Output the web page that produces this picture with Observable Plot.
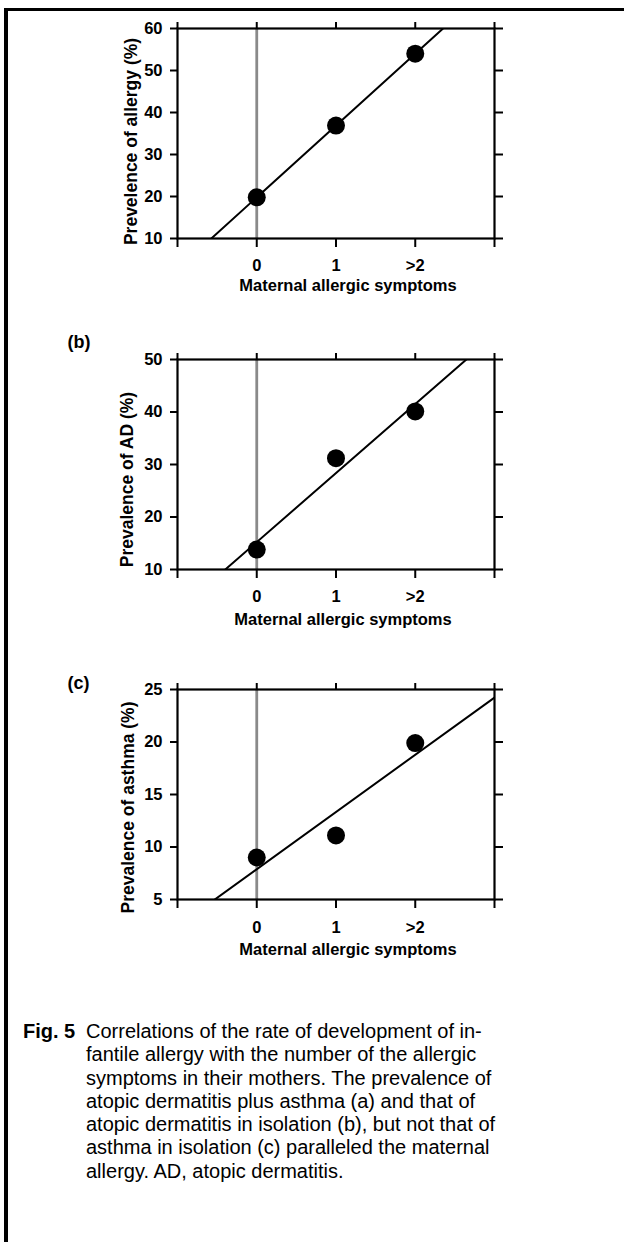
<!DOCTYPE html>
<html>
<head>
<meta charset="utf-8">
<script src="https://cdn.jsdelivr.net/npm/d3@7"></script>
<script src="https://cdn.jsdelivr.net/npm/@observablehq/plot@0.6"></script>
<style>
  html, body { margin: 0; padding: 0; background: #fff; }
  #page { position: relative; width: 624px; height: 1242px; overflow: hidden; font-family: "Liberation Sans", Arial, sans-serif; }
  #border { position: absolute; left: 4px; top: 8px; right: 0; bottom: -10px; border-top: 3px solid #000; border-left: 4px solid #000; }
  .panel { position: absolute; left: 0; }
  .panel svg { background: transparent !important; }
  #caption { position: absolute; left: 0; top: 1020px; width: 624px; font-size: 20px; line-height: 23.3px; color: #000; }
  #caption .fig { position: absolute; left: 23px; top: 0; font-weight: bold; }
  #caption .body { position: absolute; left: 86px; top: 0; white-space: nowrap; }
</style>
</head>
<body>
<div id="page">
  <div id="border"></div>
  <div id="panelA" class="panel" style="top:0px"></div>
  <div id="panelB" class="panel" style="top:300px"></div>
  <div id="panelC" class="panel" style="top:640px"></div>
  <div id="caption">
    <div class="fig">Fig. 5</div>
    <div class="body" id="captionBody"></div>
  </div>
</div>
<script>
// ---- data ----
const categories = ["0", "1", ">2"];
const positions = [0, 1, 2];
const allergy = [19.8, 36.9, 54.0];
const atopicDermatitis = [13.8, 31.2, 40.1];
const asthma = [9.0, 11.1, 19.9];

const xTicks = [-1, 0, 1, 2, 3];
const yTicksA = [10, 20, 30, 40, 50, 60];
const yTicksB = [10, 20, 30, 40, 50];
const yTicksC = [5, 10, 15, 20, 25];

const yLabelA = "Prevelence of allergy (%)";
const yLabelB = "Prevalence of AD (%)";
const yLabelC = "Prevalence of asthma (%)";
const xLabel = "Maternal allergic symptoms";

const captionLines = [
  "Correlations of the rate of development of in-",
  "fantile allergy with the number of the allergic",
  "symptoms in their mothers. The prevalence of",
  "atopic dermatitis plus asthma (a) and that of",
  "atopic dermatitis in isolation (b), but not that of",
  "asthma in isolation (c) paralleled the maternal",
  "allergy. AD, atopic dermatitis."
];

// ---- helpers ----
function regressionLine(values) {
  const pts = positions.map((x, i) => ({x, y: values[i]}));
  const mx = d3.mean(pts, d => d.x), my = d3.mean(pts, d => d.y);
  const b = d3.sum(pts, d => (d.x - mx) * (d.y - my)) / d3.sum(pts, d => (d.x - mx) ** 2);
  const a = my - b * mx;
  const [x0, x1] = d3.extent(xTicks);
  return [{x: x0, y: a + b * x0}, {x: x1, y: a + b * x1}];
}

const FONT = "'Liberation Sans', Arial, Helvetica, sans-serif";

function panel({values, yDomain, yTicks, yLabel, height, marginTop, marginBottom,
                yLabelDx, yLabelDy, xLabelDx, xLabelDy, xTickPad, panelLabel, panelDx, panelDy}) {
  const pts = positions.map((x, i) => ({x, y: values[i]}));
  const marks = [
    Plot.ruleX([0], {stroke: "#8a8a8a", strokeWidth: 2.8}),
    Plot.line(regressionLine(values), {x: "x", y: "y", stroke: "#000", strokeWidth: 2, clip: true}),
    Plot.frame({stroke: "#000", strokeWidth: 2.2}),
    Plot.axisX(xTicks, {anchor: "bottom", tickSize: 9, fill: "none", stroke: "#000", strokeWidth: 2}),
    Plot.axisX(xTicks, {anchor: "top", tickSize: 7, fill: "none", stroke: "#000", strokeWidth: 2}),
    Plot.axisY(yTicks, {anchor: "left", tickSize: 7, fill: "none", stroke: "#000", strokeWidth: 2}),
    Plot.axisY(yTicks, {anchor: "right", tickSize: 8, fill: "none", stroke: "#000", strokeWidth: 2}),
    Plot.axisX(positions, {anchor: "bottom", stroke: "none", tickSize: 0, tickPadding: xTickPad,
      tickFormat: i => categories[i], label: null, fill: "#000", fontSize: 16.5, fontWeight: "bold"}),
    Plot.axisY(yTicks, {anchor: "left", stroke: "none", tickSize: 0, tickPadding: 15,
      label: null, fill: "#000", fontSize: 16.5, fontWeight: "bold"}),
    Plot.dot(pts, {x: "x", y: "y", r: 9, fill: "#000", stroke: "none"}),
    Plot.text([yLabel], {frameAnchor: "left", text: d => d, rotate: -90, textAnchor: "middle",
      dx: yLabelDx, dy: yLabelDy, fontSize: 17.5, fontWeight: "bold", fill: "#000"}),
    Plot.text([xLabel], {frameAnchor: "bottom", text: d => d, textAnchor: "middle", lineAnchor: "top",
      dx: xLabelDx, dy: xLabelDy, fontSize: 16.5, fontWeight: "bold", fill: "#000"})
  ];
  if (panelLabel) {
    marks.push(Plot.text([panelLabel], {frameAnchor: "top-left", text: d => d, textAnchor: "start",
      lineAnchor: "middle", dx: panelDx, dy: panelDy, fontSize: 18, fontWeight: "bold", fill: "#000"}));
  }
  return Plot.plot({
    width: 624,
    height,
    marginLeft: 177,
    marginRight: 130,
    marginTop,
    marginBottom,
    x: {domain: d3.extent(xTicks)},
    y: {domain: yDomain},
    style: {fontFamily: FONT, fontWeight: "bold", fontSize: "16.5px", background: "transparent", overflow: "visible", color: "#000"},
    marks
  });
}

document.getElementById("panelA").appendChild(panel({
  values: allergy, yDomain: [10, 60], yTicks: yTicksA, yLabel: yLabelA,
  height: 300, marginTop: 28, marginBottom: 62,
  yLabelDx: -46, yLabelDy: 8, xLabelDx: 12, xLabelDy: 41, xTickPad: 21
}));
document.getElementById("panelB").appendChild(panel({
  values: atopicDermatitis, yDomain: [10, 50], yTicks: yTicksB, yLabel: yLabelB,
  height: 330, marginTop: 59, marginBottom: 61,
  yLabelDx: -50, yLabelDy: 15, xLabelDx: 7, xLabelDy: 44, xTickPad: 21,
  panelLabel: "(b)", panelDx: -110, panelDy: -17
}));
document.getElementById("panelC").appendChild(panel({
  values: asthma, yDomain: [5, 25], yTicks: yTicksC, yLabel: yLabelC,
  height: 330, marginTop: 49, marginBottom: 71,
  yLabelDx: -49, yLabelDy: 13, xLabelDx: 12, xLabelDy: 44, xTickPad: 22,
  panelLabel: "(c)", panelDx: -110, panelDy: -6
}));

const body = document.getElementById("captionBody");
captionLines.forEach(line => {
  const div = document.createElement("div");
  div.textContent = line;
  body.appendChild(div);
});
</script>
</body>
</html>
